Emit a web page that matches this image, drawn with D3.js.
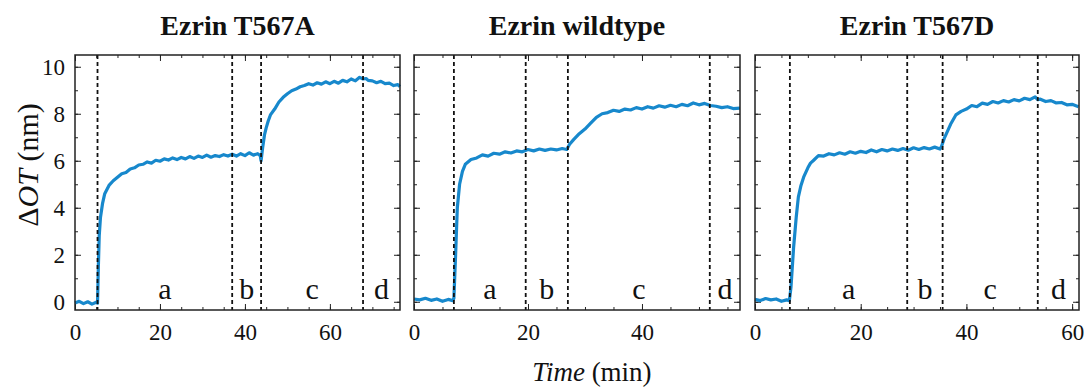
<!DOCTYPE html>
<html>
<head>
<meta charset="utf-8">
<script src="https://cdn.jsdelivr.net/npm/d3@7"></script>
<style>
  body { margin: 0; background: #fff; }
  svg { display: block; font-family: "Liberation Serif", serif; }
</style>
</head>
<body>
<svg id="chart" width="1086" height="389"></svg>
<script>
// panel titles and x ranges (min)
let titles = ['Ezrin T567A', 'Ezrin wildtype', 'Ezrin T567D'];
let xMax = [76.5, 57.2, 61.3];
let xTicks = [[0, 20, 40, 60], [0, 20, 40], [0, 20, 40, 60]];
let yTicks = [0, 2, 4, 6, 8, 10];
let phases = ['a', 'b', 'c', 'd'];

// dashed phase boundaries (min)
let bounds = [
    [5.3, 37.0, 43.8, 67.8],
    [7.0, 19.6, 27.0, 51.9],
    [6.6, 28.8, 35.5, 53.5]
];

// ΔOT traces
let timeA = [0,1,2,3,4,5,5.3,5.5,5.7,6,6.5,7,8,9,10,11,12,13,14,15,16,17,18,19,20,21,22,23,24,25,26,27,28,29,30,31,32,33,34,35,36,37,38,39,40,41,42,43,43.6,43.8,44.2,44.6,45,45.5,46,47,48,49,50,51,52,53,54,55,56,57,58,59,60,61,62,63,64,65,66,67,67.8,68.5,69,70,71,72,73,74,75,76,76.5];
let otA = [-0.05,0.02,-0.08,0.0,-0.1,-0.02,-0.06,1.5,2.8,3.6,4.2,4.6,4.95,5.15,5.3,5.45,5.5,5.65,5.7,5.82,5.85,5.95,5.9,6.02,5.98,6.08,6.03,6.12,6.05,6.14,6.08,6.18,6.1,6.2,6.14,6.24,6.15,6.22,6.18,6.26,6.2,6.28,6.2,6.3,6.22,6.34,6.24,6.3,6.22,6.0,6.6,7.1,7.4,7.7,7.95,8.2,8.5,8.7,8.85,8.98,9.05,9.15,9.2,9.28,9.22,9.32,9.26,9.36,9.28,9.38,9.3,9.42,9.36,9.48,9.4,9.55,9.48,9.5,9.42,9.4,9.32,9.38,9.28,9.3,9.2,9.24,9.15];

let timeWT = [0,1,2,3,4,5,6,6.8,7.0,7.3,7.6,8,8.5,9,10,11,12,13,14,15,16,17,18,19,20,21,22,23,24,25,26,26.8,27.3,28,29,30,31,32,33,34,35,36,37,38,39,40,41,42,43,44,45,46,47,48,49,50,51,52,53,54,55,56,57.2];
let otWT = [0.12,0.08,0.15,0.06,0.12,0.02,0.1,0.05,0.15,2.0,4.0,5.0,5.55,5.85,6.05,6.12,6.25,6.2,6.32,6.28,6.38,6.33,6.42,6.38,6.48,6.42,6.5,6.44,6.5,6.46,6.52,6.48,6.7,6.9,7.15,7.35,7.6,7.85,8.0,8.05,8.15,8.1,8.2,8.16,8.26,8.2,8.3,8.24,8.34,8.28,8.36,8.3,8.4,8.34,8.46,8.38,8.44,8.35,8.32,8.26,8.3,8.22,8.24];

let timeD = [0,1,2,3,4,5,6,6.5,6.8,7.3,7.8,8.2,8.7,9.2,10,10.5,11,12,13,14,15,16,17,18,19,20,21,22,23,24,25,26,27,28,29,30,31,32,33,34,35,35.3,35.8,36.3,37,38,39,40,41,42,43,44,45,46,47,48,49,50,51,52,53,53.5,54,55,56,57,58,59,60,61.2];
let otD = [0.1,0.05,0.14,0.08,0.12,0.02,0.08,0.05,0.6,2.3,3.6,4.45,4.95,5.3,5.7,5.9,6.0,6.22,6.2,6.3,6.25,6.34,6.28,6.38,6.32,6.4,6.35,6.46,6.38,6.48,6.42,6.5,6.44,6.52,6.45,6.55,6.48,6.56,6.5,6.58,6.5,6.62,6.95,7.2,7.55,7.95,8.1,8.2,8.35,8.3,8.45,8.4,8.52,8.46,8.56,8.5,8.6,8.55,8.66,8.6,8.72,8.6,8.62,8.52,8.56,8.46,8.48,8.38,8.4,8.3];

let times = [timeA, timeWT, timeD];
let traces = [otA, otWT, otD];

let svg = d3.select('#chart');
let frames = [[75, 400], [414, 740], [755, 1079]];
let plotTop = 55, plotBottom = 310;
let y = d3.scaleLinear().domain([-0.35, 10.5]).range([plotBottom, plotTop]);

titles.forEach((title, i) => {
    let x = d3.scaleLinear().domain([0, xMax[i]]).range(frames[i]);
    let g = svg.append('g');

    // minor ticks (inside)
    g.append('g').attr('transform', `translate(0,${plotBottom})`)
        .call(d3.axisBottom(x).tickValues(d3.range(0, xMax[i], 5)).tickSize(-3).tickFormat(''));
    g.append('g').attr('transform', `translate(0,${plotTop})`)
        .call(d3.axisTop(x).tickValues(d3.range(0, xMax[i], 5)).tickSize(-3).tickFormat(''));
    g.append('g').attr('transform', `translate(${frames[i][0]},0)`)
        .call(d3.axisLeft(y).tickValues(d3.range(0, 10.5, 1)).tickSize(-3).tickFormat(''));
    g.append('g').attr('transform', `translate(${frames[i][1]},0)`)
        .call(d3.axisRight(y).tickValues(d3.range(0, 10.5, 1)).tickSize(-3).tickFormat(''));

    // major ticks
    g.append('g').attr('transform', `translate(0,${plotBottom})`)
        .call(d3.axisBottom(x).tickValues(xTicks[i]).tickSize(-6).tickPadding(14));
    g.append('g').attr('transform', `translate(0,${plotTop})`)
        .call(d3.axisTop(x).tickValues(xTicks[i]).tickSize(-6).tickFormat(''));
    let ya = g.append('g').attr('transform', `translate(${frames[i][0]},0)`)
        .call(d3.axisLeft(y).tickValues(yTicks).tickSize(-6).tickPadding(10));
    if (i > 0) ya.selectAll('text').remove();
    g.append('g').attr('transform', `translate(${frames[i][1]},0)`)
        .call(d3.axisRight(y).tickValues(yTicks).tickSize(-6).tickFormat(''));

    g.selectAll('.domain').remove();
    g.selectAll('.tick line').attr('stroke', '#222').attr('stroke-width', 1);
    g.selectAll('.tick text').attr('font-size', 23).attr('fill', '#111')
        .attr('font-family', '"Liberation Serif", serif');

    // trace
    let pts = times[i].map((t, k) => [t, traces[i][k]]);
    g.append('path').datum(pts)
        .attr('fill', 'none')
        .attr('stroke', '#1788cc')
        .attr('stroke-width', 3.2)
        .attr('stroke-linejoin', 'round')
        .attr('d', d3.line().x(d => x(d[0])).y(d => y(d[1])));

    // phase boundaries
    g.selectAll('.bound').data(bounds[i]).join('line')
        .attr('x1', d => x(d)).attr('x2', d => x(d))
        .attr('y1', plotTop).attr('y2', plotBottom)
        .attr('stroke', '#111').attr('stroke-width', 1.8)
        .attr('stroke-dasharray', '4,3');

    // phase letters
    let edges = bounds[i].concat([xMax[i]]);
    g.selectAll('.phase').data(phases).join('text')
        .attr('x', (d, k) => (x(edges[k]) + x(edges[k + 1])) / 2)
        .attr('y', 299)
        .attr('text-anchor', 'middle')
        .attr('font-size', 30)
        .attr('fill', '#111')
        .text(d => d);

    // frame
    g.append('rect')
        .attr('x', frames[i][0]).attr('y', plotTop)
        .attr('width', frames[i][1] - frames[i][0]).attr('height', plotBottom - plotTop)
        .attr('fill', 'none').attr('stroke', '#222').attr('stroke-width', 1.5);

    // title
    svg.append('text')
        .attr('x', (frames[i][0] + frames[i][1]) / 2).attr('y', 35)
        .attr('text-anchor', 'middle')
        .attr('font-size', 28).attr('font-weight', 'bold')
        .attr('fill', '#111')
        .text(title);
});

// axis labels
let yl = svg.append('text')
    .attr('transform', 'translate(38,165) rotate(-90)')
    .attr('text-anchor', 'middle')
    .attr('font-size', 30).attr('fill', '#111');
yl.append('tspan').text('Δ');
yl.append('tspan').attr('font-style', 'italic').text('OT');
yl.append('tspan').text(' (nm)');

let xl = svg.append('text')
    .attr('x', 592).attr('y', 381)
    .attr('text-anchor', 'middle')
    .attr('font-size', 27).attr('fill', '#111');
xl.append('tspan').attr('font-style', 'italic').text('Time');
xl.append('tspan').text(' (min)');
</script>
</body>
</html>
